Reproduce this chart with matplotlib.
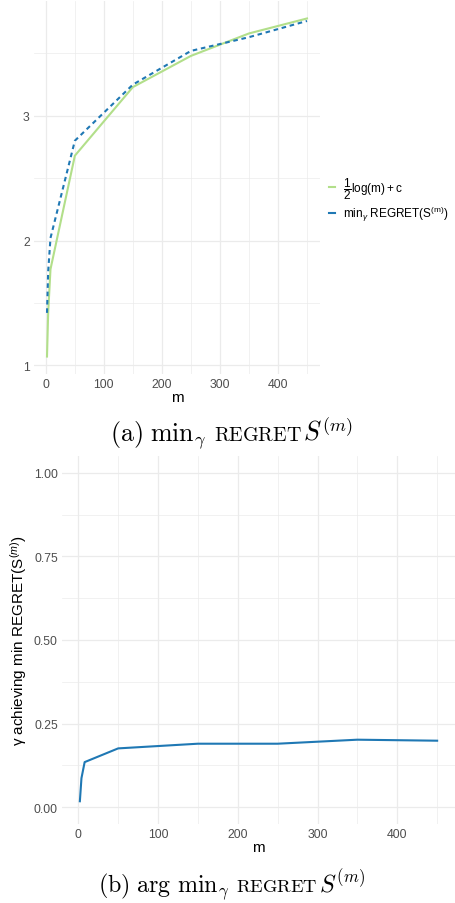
import matplotlib
matplotlib.use("Agg")
from matplotlib import pyplot as plt
from matplotlib.ticker import MultipleLocator, FormatStrFormatter

plt.rcParams['font.family'] = ['Liberation Sans', 'DejaVu Sans']
plt.rcParams['mathtext.fontset'] = 'custom'
plt.rcParams['mathtext.rm'] = 'Liberation Sans'
plt.rcParams['mathtext.it'] = 'Liberation Sans:italic'

# values
m_vals = [2, 4, 8, 50, 150, 250, 350, 450]
log_bound = [1.07, 1.42, 1.77, 2.68, 3.23, 3.48, 3.66, 3.78]
min_regret = [1.42, 1.75, 2.02, 2.80, 3.25, 3.52, 3.63, 3.76]
best_gamma = [0.018, 0.087, 0.135, 0.176, 0.190, 0.190, 0.202, 0.199]

green = '#B2DF8A'
blue = '#1F78B4'
grid_c = '#EBEBEB'
tick_c = '#4D4D4D'

W, H = 455, 904


def style_axes(ax):
    for s in ax.spines.values():
        s.set_visible(False)
    ax.tick_params(which='both', length=0, labelsize=8.8, labelcolor=tick_c, pad=3)
    ax.grid(True, which='major', color=grid_c, lw=0.9)
    ax.grid(True, which='minor', color=grid_c, lw=0.5)
    ax.set_axisbelow(True)
    ax.set_xlabel('m', fontsize=11, labelpad=0)


def caption(fig, y_px, pieces, size, target_w):
    # pieces: (text, relative size, gap after in px); REGRET set smaller to mimic small caps
    r = fig.canvas.get_renderer()
    texts = []
    for s, rel, gap in pieces:
        t = fig.text(0, 1 - y_px / H, s, fontsize=size * rel, va='baseline', math_fontfamily='cm')
        texts.append((t, gap))
    widths = [t.get_window_extent(r).width for t, g in texts]
    total = sum(widths) + sum(g for t, g in texts)
    k = target_w / total
    for t, g in texts:
        t.set_fontsize(t.get_fontsize() * k)
    widths = [t.get_window_extent(r).width for t, g in texts]
    total = sum(widths) + sum(g * k for t, g in texts)
    x = (W - total) / 2 + 4
    for (t, g), w in zip(texts, widths):
        t.set_x(x / W)
        x += w + g * k


fig = plt.figure(figsize=(W / 100, H / 100), dpi=100)

# (a) top panel
ax1 = fig.add_axes([34 / W, 1 - 375 / H, 286 / W, 373 / H])
ax1.plot(m_vals, log_bound, color=green, lw=1.5)
ax1.plot(m_vals, min_regret, color=blue, lw=1.5, dashes=(2.2, 1.8))
ax1.set_xlim(-20.4, 472.4)
ax1.set_ylim(0.93, 3.92)
ax1.xaxis.set_major_locator(MultipleLocator(100))
ax1.xaxis.set_minor_locator(MultipleLocator(50))
ax1.yaxis.set_major_locator(MultipleLocator(1))
ax1.yaxis.set_minor_locator(MultipleLocator(0.5))
style_axes(ax1)

labels = [r'$\dfrac{1}{2}\mathrm{log(m) + c}$',
          r'$\mathrm{min}_{\gamma}\ \mathrm{REGRET(S^{(m)})}$']
h_leg = [plt.Line2D([], [], color=green, lw=1.5), plt.Line2D([], [], color=blue, lw=1.5)]
leg = fig.legend(h_leg, labels, loc='center left', bbox_to_anchor=(0.705, 1 - 200 / H),
                 frameon=False, fontsize=8.5, handlelength=0.5, handletextpad=0.7,
                 labelspacing=0.25, borderpad=0.2)

# (b) bottom panel
ax2 = fig.add_axes([62 / W, 1 - 825 / H, 393 / W, 368 / H])
ax2.plot(m_vals, best_gamma, color=blue, lw=1.5)
ax2.set_xlim(-20.4, 472.4)
ax2.set_ylim(-0.05, 1.05)
ax2.xaxis.set_major_locator(MultipleLocator(100))
ax2.xaxis.set_minor_locator(MultipleLocator(50))
ax2.yaxis.set_major_locator(MultipleLocator(0.25))
ax2.yaxis.set_minor_locator(MultipleLocator(0.125))
ax2.yaxis.set_major_formatter(FormatStrFormatter('%.2f'))
style_axes(ax2)
ax2.set_ylabel(r'γ achieving min REGRET(S$^{(m)}$)', fontsize=11)
ax2.yaxis.set_label_coords(-0.083, 0.5)

# captions below each panel
caption(fig, 441, [(r'$\mathrm{(a)}$', 1, 6), (r'$\mathrm{min}_{\gamma}$', 1, 7),
                   (r'$\mathrm{REGRET}$', 0.77, 1), (r'$S^{(m)}$', 1, 0)], 16, 244)
caption(fig, 892, [(r'$\mathrm{(b)}$', 1, 6), (r'$\mathrm{arg}$', 1, 5),
                   (r'$\mathrm{min}_{\gamma}$', 1, 7), (r'$\mathrm{REGRET}$', 0.77, 1),
                   (r'$S^{(m)}$', 1, 0)], 16, 268)

fig.savefig('out.png', dpi=100)
